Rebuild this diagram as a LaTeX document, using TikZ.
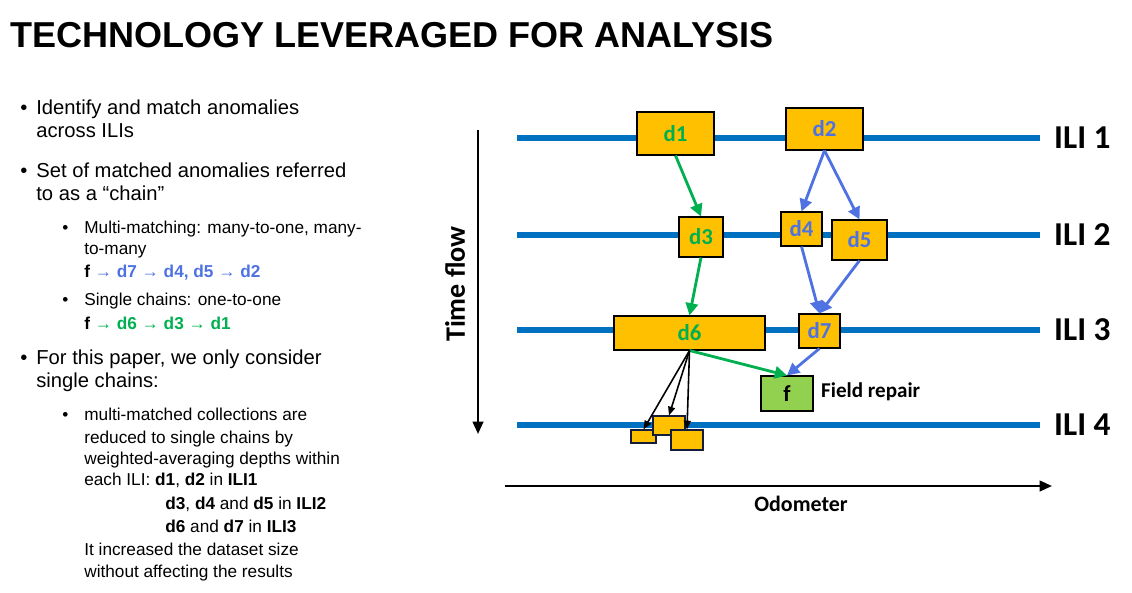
\documentclass[tikz,border=0pt]{standalone}
\usepackage{fontspec}
\setmainfont{Liberation Sans}
\newfontfamily\labelfont{Carlito}
\usepackage{xcolor}
\definecolor{ili-blue}{RGB}{0,112,192}
\definecolor{box-gold}{RGB}{255,192,0}
\definecolor{chain-green}{RGB}{0,176,80}
\definecolor{chain-blue}{RGB}{78,114,226}
\definecolor{repair-green}{RGB}{146,208,80}
\definecolor{box-edge}{RGB}{20,30,60}
\usetikzlibrary{arrows.meta,positioning}

\begin{document}
\begin{tikzpicture}[
    x=0.02cm, y=-0.02cm,
    ili line/.style={line width=3.4pt, draw=ili-blue},
    ili label/.style={font=\labelfont\fontsize{19}{19}\selectfont\bfseries, anchor=west},
    defect box/.style={draw=black, line width=0.6pt, fill=box-gold,
        font=\labelfont\fontsize{13}{13}\selectfont\bfseries, inner sep=0pt},
    small box/.style={draw=box-edge, line width=0.6pt, fill=box-gold, inner sep=0pt},
    green link/.style={-{Triangle[length=7pt,width=7pt]}, line width=1.6pt, draw=chain-green},
    blue link/.style={-{Triangle[length=7pt,width=7pt]}, line width=1.6pt, draw=chain-blue},
    split link/.style={-{Triangle[length=5pt,width=4pt]}, line width=0.9pt},
    body line/.style={font=\fontsize{11.5}{11.5}\selectfont, anchor=base west, inner sep=0pt},
    sub line/.style={font=\fontsize{9.8}{9.8}\selectfont, anchor=base west, inner sep=0pt}
]
\useasboundingbox (0,0) rectangle (1132,592);

% Title
\node[font=\fontsize{20.5}{20.5}\selectfont\bfseries, anchor=base west, inner sep=0pt] (title) at (10,47) {TECHNOLOGY LEVERAGED FOR ANALYSIS};

% === LEFT TEXT ===
\node[body line] (b1) at (20,114) {\textbullet};
\node[body line] (t1a) at (36,114) {Identify and match anomalies};
\node[body line] (t1b) at (36,137) {across ILIs};
\node[body line] (b2) at (20,177) {\textbullet};
\node[body line] (t2a) at (36,177) {Set of matched anomalies referred};
\node[body line] (t2b) at (36,200) {to as a ``chain''};
\node[sub line] (s1) at (62,233) {\textbullet};
\node[sub line] (u1a) at (84,233) {Multi-matching: many-to-one, many-};
\node[sub line] (u1b) at (84,254) {to-many};
\node[sub line] (u1c) at (84,277) {\textbf{f \textcolor{chain-blue}{→ d7 → d4, d5 → d2}}};
\node[sub line] (s2) at (62,305) {\textbullet};
\node[sub line] (u2a) at (84,305) {Single chains: one-to-one};
\node[sub line] (u2b) at (84,329) {\textbf{f \textcolor{chain-green}{→ d6 → d3 → d1}}};
\node[body line] (b3) at (20,364) {\textbullet};
\node[body line] (t3a) at (36,364) {For this paper, we only consider};
\node[body line] (t3b) at (36,387) {single chains:};
\node[sub line] (s3) at (62,420) {\textbullet};
\node[sub line] (v1) at (84,420) {multi-matched collections are};
\node[sub line] (v2) at (84,443) {reduced to single chains by};
\node[sub line] (v3) at (84,464) {weighted-averaging depths within};
\node[sub line] (v4) at (84,485) {each ILI: \textbf{d1}, \textbf{d2} in \textbf{ILI1}};
\node[sub line] (v5) at (165,509) {\textbf{d3}, \textbf{d4} and \textbf{d5} in \textbf{ILI2}};
\node[sub line] (v6) at (165,532) {\textbf{d6} and \textbf{d7} in \textbf{ILI3}};
\node[sub line] (v7) at (84,555) {It increased the dataset size};
\node[sub line] (v8) at (84,577) {without affecting the results};

% === ILI LINES ===
\foreach \y/\n in {138/1,235/2,330/3,425/4}{
    \draw[ili line] (517,\y) -- (1040,\y);
    \node[ili label] (ili\n) at (1048,\y) {ILI \n};
}

% Axes
\coordinate (time top) at (478,130);
\coordinate (time end) at (478,434);
\draw[-{Triangle[length=7pt,width=6pt]}, line width=1.3pt] (time top) -- (time end);
\node[font=\labelfont\fontsize{16}{16}\selectfont\bfseries, rotate=90] (timeflow) at (455,284) {Time flow};
\coordinate (odo start) at (505,486);
\coordinate (odo end) at (1052,486);
\draw[-{Triangle[length=7pt,width=6pt]}, line width=1.3pt] (odo start) -- (odo end);
\node[font=\labelfont\fontsize{12.5}{12.5}\selectfont\bfseries] (odometer) at (801,504) {Odometer};

% === DEFECT BOXES ===
\node[defect box, minimum width=1.54cm, minimum height=0.86cm, text=chain-green] (d1) at (675.5,133.5) {d1};
\node[defect box, minimum width=1.54cm, minimum height=0.84cm, text=chain-blue] (d2) at (824.5,129) {d2};
\node[defect box, minimum width=0.88cm, minimum height=0.80cm, text=chain-green] (d3) at (701,237) {d3};
\node[defect box, minimum width=0.82cm, minimum height=0.68cm, text=chain-blue] (d4) at (801.5,229) {d4};
\node[defect box, minimum width=1.10cm, minimum height=0.80cm, text=chain-blue] (d5) at (859.5,240) {d5};
\node[defect box, minimum width=3.02cm, minimum height=0.68cm, text=chain-green] (d6) at (689.5,333) {d6};
\node[defect box, minimum width=0.82cm, minimum height=0.68cm, text=chain-blue] (d7) at (819.5,331) {d7};
\node[defect box, fill=repair-green, minimum width=1.04cm, minimum height=0.70cm, text=black] (f) at (787,393.5) {f};
\node[font=\labelfont\fontsize{12}{12}\selectfont\bfseries, anchor=west] (repair) at (815,392) {Field repair};

% small split boxes
\node[small box, minimum width=0.50cm, minimum height=0.26cm] (p1) at (643.5,436.5) {};
\node[small box, minimum width=0.64cm, minimum height=0.38cm] (p2) at (669,425.5) {};
\node[small box, minimum width=0.64cm, minimum height=0.40cm] (p3) at (687,440) {};

% === CHAIN LINKS ===
\draw[green link] (d1.south) -- (d3.north);
\draw[green link] (d3.south) -- (d6.north);
\draw[green link] (d6.south) -- (f.north);
\draw[blue link] (d2.south) -- (d4.north);
\draw[blue link] (d2.south) -- (d5.north);
\draw[blue link] (d4.south) -- (d7.north);
\draw[blue link] (d5.south) -- (d7.north);
\draw[blue link] (d7.south) -- (f.north);
\draw[split link] (d6.south) -- (p1.north);
\draw[split link] (d6.south) -- (p2.north);
\draw[split link] (d6.south) -- (p3.north);

\end{tikzpicture}
\end{document}
